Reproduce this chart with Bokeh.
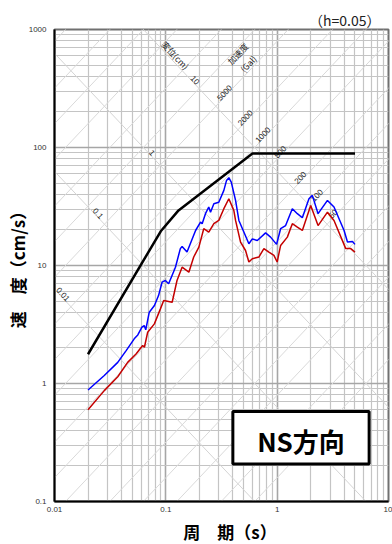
import numpy as np
from bokeh.plotting import figure
from bokeh.models import FixedTicker, Label, BoxAnnotation
from bokeh.core.properties import value
from bokeh.embed import file_html
from bokeh.resources import INLINE

# ---------------- data ----------------
x_major = [0.01, 0.1, 1, 10]
y_major = [0.1, 1, 10, 100, 1000]
x_labels = ["0.01", "0.1", "1", "10"]
y_labels = ["0.1", "1", "10", "100", "1000"]

design_T = [0.02, 0.09, 0.13, 0.6, 5.0]
design_V = [1.77, 19.5, 29.3, 89.0, 89.0]

blue_T = [0.02, 0.028, 0.037, 0.044, 0.052, 0.056, 0.061, 0.064, 0.066, 0.071,
          0.079, 0.086, 0.0925, 0.099, 0.106, 0.122, 0.135, 0.140, 0.155, 0.185,
          0.205, 0.212, 0.227, 0.243, 0.252, 0.270, 0.299, 0.332, 0.351, 0.368,
          0.387, 0.423, 0.453, 0.502, 0.557, 0.598, 0.663, 0.787, 0.873, 0.988,
          1.074, 1.191, 1.368, 1.518, 1.683, 1.93, 2.07, 2.33, 2.83, 3.24,
          3.99, 4.28, 4.75, 5.0]
blue_V = [0.88, 1.17, 1.51, 1.90, 2.39, 2.58, 3.0, 3.10, 2.85, 4.02,
          4.58, 5.56, 7.22, 7.46, 7.0, 9.67, 13.9, 14.5, 13.0, 19.8,
          23.3, 22.6, 27.5, 31.3, 28.3, 33.4, 34.4, 43.3, 52.6, 55.5,
          50.9, 35.6, 24.1, 19.2, 15.3, 16.8, 16.3, 18.9, 17.4, 15.1,
          20.5, 21.8, 30.3, 27.5, 25.4, 36.8, 39.3, 27.5, 35.6, 31.3,
          19.8, 15.8, 16.0, 15.1]

red_T = [0.02, 0.028, 0.037, 0.0454, 0.054, 0.0619, 0.0642, 0.0687, 0.0789, 0.0894,
         0.0957, 0.114, 0.126, 0.140, 0.161, 0.178, 0.198, 0.219, 0.243, 0.270,
         0.299, 0.332, 0.368, 0.408, 0.423, 0.469, 0.520, 0.557, 0.598, 0.685,
         0.760, 0.843, 0.935, 1.0, 1.074, 1.234, 1.368, 1.518, 1.683, 2.0,
         2.33, 2.83, 3.24, 4.13, 4.58, 5.0]
red_V = [0.60, 0.87, 1.14, 1.51, 1.78, 2.10, 2.03, 2.72, 3.20, 4.29,
         5.05, 4.88, 7.46, 9.67, 8.78, 11.8, 14.3, 20.5, 19.2, 22.6,
         24.1, 30.3, 36.8, 29.3, 24.1, 15.8, 13.4, 10.7, 11.4, 11.8,
         13.9, 13.0, 12.2, 10.7, 14.8, 17.4, 22.6, 21.1, 19.8, 32.3,
         21.8, 28.3, 24.1, 13.9, 13.9, 13.0]

# tripartite guide lines
disp_lines = [0.01, 0.1, 1, 10]                      # cm
disp_label_text = ["0.01", "0.1", "1", "10"]
disp_label_T = [0.01144, 0.0236, 0.0723, 0.1752]
disp_title_T = 0.1118                                # on the 10 cm line

acc_lines = [m * 10 ** k for k in range(0, 6) for m in (1, 2, 5)]   # Gal
acc_label_vals = [5000, 2000, 1000, 500, 200, 100, 50]
acc_label_T = [0.351, 0.539, 0.776, 1.11, 1.68, 2.37, 3.31]
acc_title_T = 0.598                                  # on the 5000 Gal line

# ---------------- figure ----------------
p = figure(frame_width=334, frame_height=472, x_axis_type="log", y_axis_type="log",
           x_range=(0.01, 10), y_range=(0.1, 1000),
           output_backend="svg", toolbar_location=None,
           min_border_left=54, min_border_right=4, min_border_top=29, min_border_bottom=38)
p.background_fill_color = "white"
p.outline_line_color = "#707070"
p.outline_line_width = 2

p.title.text = "（h=0.05）"
p.title.align = "right"
p.title.text_font = "Noto Sans CJK JP"
p.title.text_font_size = "14px"
p.title.text_font_style = "normal"
p.title.text_color = "#222222"
p.title.text_line_height = 1.0
p.title.standoff = 0
p.title.offset = 8

def minors(majors):
    return [m * t for t in majors[:-1] for m in range(2, 10)]

xt = FixedTicker(ticks=x_major, minor_ticks=minors(x_major))
yt = FixedTicker(ticks=y_major, minor_ticks=minors(y_major))
p.xaxis.ticker = xt
p.yaxis.ticker = yt
p.xgrid.ticker = xt
p.ygrid.ticker = yt
for g in (p.xgrid, p.ygrid):
    g.grid_line_color = "#a6a6a6"
    g.grid_line_width = 1.6
    g.minor_grid_line_color = "#c4c4c4"
    g.minor_grid_line_width = 1.2

p.xaxis.major_label_overrides = dict(zip(x_major, x_labels))
p.yaxis.major_label_overrides = dict(zip(y_major, y_labels))
for ax in (p.xaxis, p.yaxis):
    ax.major_tick_line_color = None
    ax.minor_tick_line_color = None
    ax.major_tick_out = 0
    ax.major_tick_in = 0
    ax.minor_tick_out = 0
    ax.minor_tick_in = 0
    ax.axis_line_color = "black"
    ax.axis_line_width = 2
    ax.major_label_text_font_size = "8px"
    ax.major_label_text_color = "#333333"
    ax.major_label_text_font = "Liberation Sans"
    ax.axis_label_text_font = "Noto Sans CJK JP"
    ax.axis_label_text_font_size = "17px"
    ax.axis_label_text_font_style = "bold"
    ax.axis_label_text_color = "black"
    ax.axis_label_text_line_height = 1.0
p.xaxis.major_label_standoff = 5
p.yaxis.major_label_standoff = 8
p.xaxis.axis_label = "\u3000周　期（s）"
p.yaxis.axis_label = "速　度（cm/s）"
p.xaxis.axis_label_standoff = 4
p.yaxis.axis_label_standoff = -4

# guide lines
T_ext = np.array([0.001, 100.0])
p.multi_line([list(T_ext) for _ in disp_lines],
             [list(2 * np.pi * d / T_ext) for d in disp_lines],
             line_color="#d4d4d4", line_width=1)
p.multi_line([list(T_ext) for _ in acc_lines],
             [list(a * T_ext / (2 * np.pi)) for a in acc_lines],
             line_color="#d9d9d9", line_width=1)

ang = float(np.arctan2(117.85, 111.13))
dT = np.array(disp_label_T)
p.text(x=list(dT), y=list(2 * np.pi * np.array(disp_lines) / dT), text=disp_label_text,
       angle=-ang, text_align="center", text_baseline="bottom",
       text_font=value("Liberation Sans"), text_font_size="8px", text_color="#222222")
p.text(x=[disp_title_T], y=[2 * np.pi * 10 / disp_title_T], text=["変位(cm)"],
       angle=-ang, text_align="center", text_baseline="bottom",
       text_font=value("Noto Sans CJK JP"), text_font_size="8.5px", text_color="#222222")
aT = np.array(acc_label_T)
p.text(x=list(aT), y=list(np.array(acc_label_vals) * aT / (2 * np.pi)),
       text=[str(a) for a in acc_label_vals],
       angle=ang, text_align="center", text_baseline="bottom",
       text_font=value("Liberation Sans"), text_font_size="8px", text_color="#222222")
p.text(x=[acc_title_T], y=[5000 * acc_title_T / (2 * np.pi)], text=["加速度\n(Gal)"],
       angle=ang, text_align="center", text_baseline="bottom",
       text_font=value("Noto Sans CJK JP"), text_font_size="8.5px", text_color="#222222")

# spectra
p.line(design_T, design_V, line_color="black", line_width=2.5)
p.line(blue_T, blue_V, line_color="#0000ff", line_width=1.5)
p.line(red_T, red_V, line_color="#c40000", line_width=1.5)

# direction box
BOX_T = (0.4, 6.7)
BOX_V = (0.208, 0.58)
p.add_layout(BoxAnnotation(left=BOX_T[0], right=BOX_T[1], bottom=BOX_V[0], top=BOX_V[1],
                           fill_color="white", fill_alpha=1.0,
                           line_color="black", line_width=3, line_alpha=1.0))
p.add_layout(Label(x=float(np.sqrt(BOX_T[0] * BOX_T[1])), y=0.327, text="NS方向",
                   text_align="center", text_baseline="middle",
                   text_font="Noto Sans CJK JP", text_font_size="26px",
                   text_font_style="bold", text_color="black"))

open("out.html", "w").write(file_html(p, INLINE))
